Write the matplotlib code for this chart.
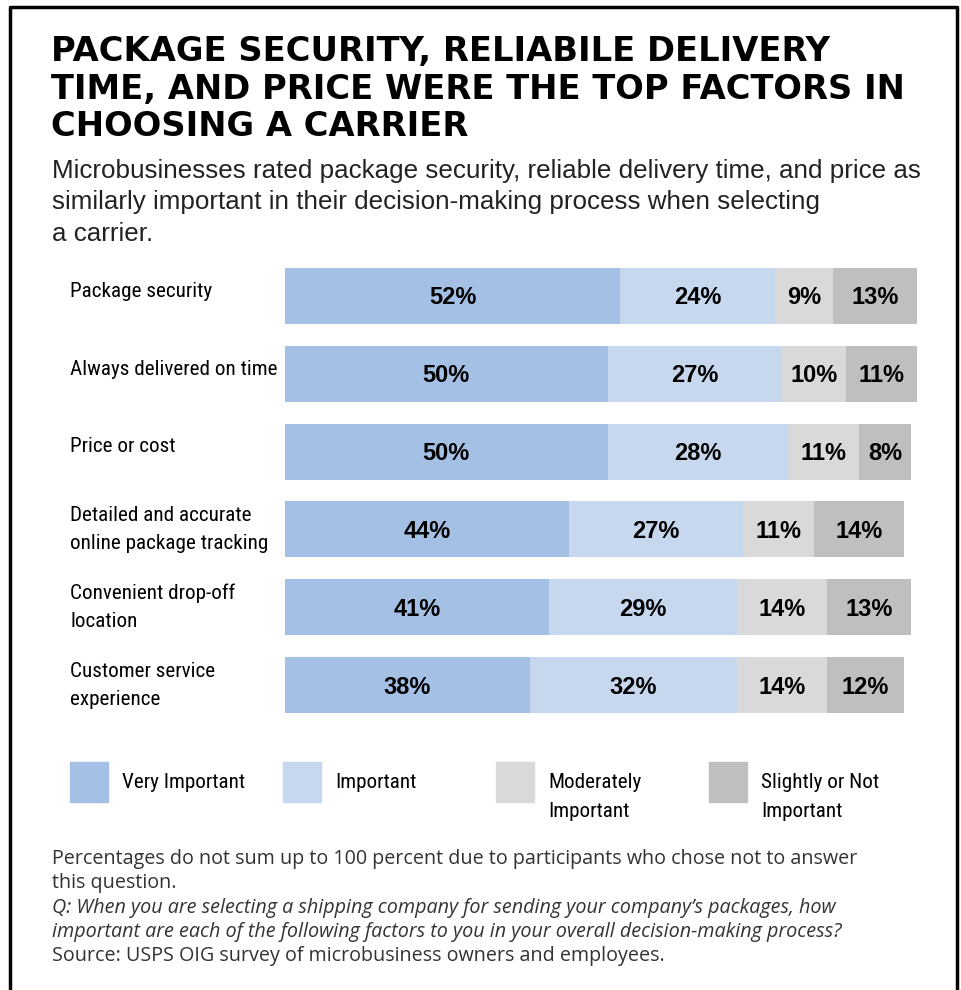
import matplotlib.pyplot as plt
from matplotlib import font_manager
from matplotlib.patches import Rectangle

# survey results, percent of respondents
factors = ["Package security", "Always delivered on time", "Price or cost",
           "Detailed and accurate\nonline package tracking",
           "Convenient drop-off\nlocation", "Customer service\nexperience"]
very_important = [52, 50, 50, 44, 41, 38]
important = [24, 27, 28, 27, 29, 32]
moderately = [9, 10, 11, 11, 14, 14]
slightly_not = [13, 11, 8, 14, 13, 12]
series_names = ["Very Important", "Important", "Moderately\nImportant",
                "Slightly or Not\nImportant"]
colors = ["#a4c0e4", "#c6d7ee", "#d9d9d9", "#bfbfbf"]

W, H = 961, 990
fig = plt.figure(figsize=(W / 100, H / 100), dpi=100)

ARIAL = ["Liberation Sans", "DejaVu Sans"]
# narrow face for row labels if one is around, otherwise shrink Arial a bit
installed = {f.name for f in font_manager.fontManager.ttflist}
narrow_face = next((n for n in ["Liberation Sans Narrow", "Roboto Condensed",
                                "Open Sans Condensed", "DejaVu Sans Condensed"]
                    if n in installed), None)
if narrow_face:
    NARROW, NARROW_SIZE = [narrow_face, "DejaVu Sans"], 15.2
else:
    NARROW, NARROW_SIZE = ARIAL, 13.6


def fx(px):
    return px / W


def fy(py):
    return 1 - py / H


# outer frame (no bottom edge)
frame = fig.add_axes([0, 0, 1, 1])
frame.set_xlim(0, W)
frame.set_ylim(H, 0)
frame.axis("off")
frame.plot([10, 10, 957, 957], [H + 5, 7, 7, H + 5], color="black", lw=2.5)

title_lines = ["PACKAGE SECURITY, RELIABILE DELIVERY",
               "TIME, AND PRICE WERE THE TOP FACTORS IN",
               "CHOOSING A CARRIER"]
for i, line in enumerate(title_lines):
    fig.text(fx(51), fy(52 + i * 37.5), line, fontsize=24.3, fontweight="bold",
             family="DejaVu Sans", va="center", ha="left")

subtitle_lines = ["Microbusinesses rated package security, reliable delivery time, and price as",
                  "similarly important in their decision-making process when selecting",
                  "a carrier."]
for i, line in enumerate(subtitle_lines):
    fig.text(fx(52), fy(171 + i * 31.5), line, fontsize=18.7, family=ARIAL,
             color="#222222", va="center", ha="left")

# stacked bars
ax = fig.add_axes([fx(285), fy(724), 645 / W, 467 / H])
ax.set_xlim(0, 100)
ax.set_ylim(5.5, -0.5)
ax.axis("off")

left = [0] * len(factors)
for vals, col in zip([very_important, important, moderately, slightly_not], colors):
    ax.barh(range(len(factors)), vals, left=left, height=0.72, color=col)
    for i, v in enumerate(vals):
        ax.text(left[i] + v / 2, i + 0.025, f"{v}%", ha="center", va="center",
                fontsize=17, fontweight="bold", family=ARIAL)
    left = [a + b for a, b in zip(left, vals)]

for i, name in enumerate(factors):
    off = 0 if "\n" in name else -0.06
    ax.text(-33.3, i + off, name, ha="left", va="center", fontsize=NARROW_SIZE,
            family=NARROW, linespacing=1.6, clip_on=False)

# legend
for k, (name, col) in enumerate(zip(series_names, colors)):
    x0 = 70 + k * 213
    frame.add_patch(Rectangle((x0, 762), 38, 40, color=col))
    frame.text(x0 + 52, 773, name, ha="left", va="top", fontsize=NARROW_SIZE,
               family=NARROW, linespacing=1.65)

notes = [("Percentages do not sum up to 100 percent due to participants who chose not to answer", "normal"),
         ("this question.", "normal"),
         ("Q: When you are selecting a shipping company for sending your company\u2019s packages, how", "italic"),
         ("important are each of the following factors to you in your overall decision-making process?", "italic"),
         ("Source: USPS OIG survey of microbusiness owners and employees.", "normal")]
for i, (line, style) in enumerate(notes):
    fig.text(fx(52), fy(859 + i * 24.3), line, fontsize=14.2, family=["Open Sans", "DejaVu Sans"],
             style=style, color="#333333", va="center", ha="left")

fig.savefig("out.png", dpi=100)
